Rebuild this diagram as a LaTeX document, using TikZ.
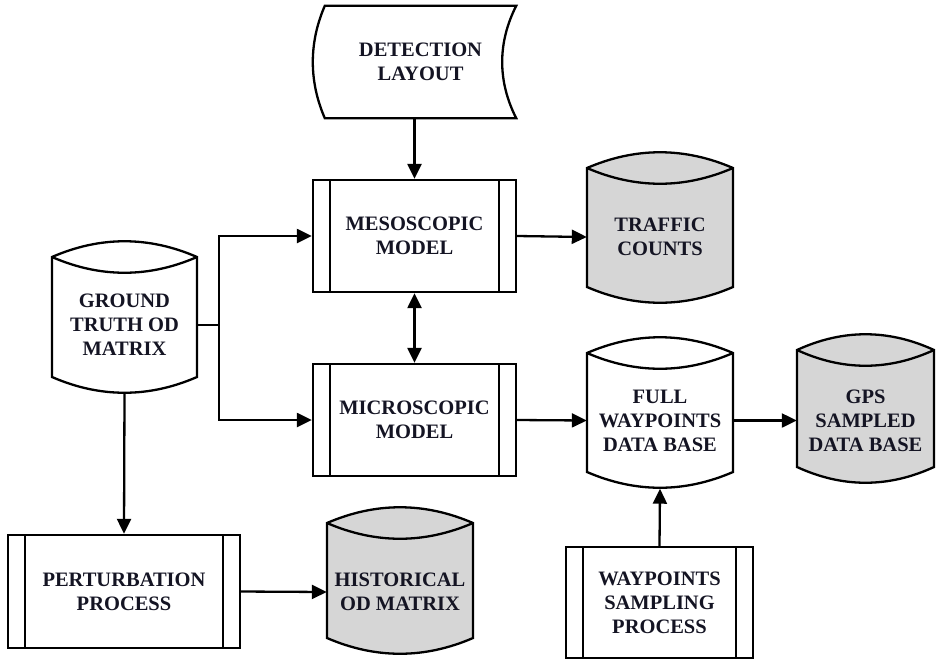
\documentclass[tikz,border=0pt]{standalone}
\usepackage{fontspec}
\setmainfont{Liberation Serif}
\usetikzlibrary{arrows.meta}
\definecolor{dbgray}{RGB}{214,214,214}
\definecolor{inkcol}{RGB}{20,20,35}

% drum (data store) outline: left, right, rim y, bottom y, fill colour
\newcommand\drum[5]{%
  \filldraw[fill=#5, dbline]
    (#1,#3) .. controls ({#1+(#2-#1)/3},{#3-21}) and ({#2-(#2-#1)/3},{#3-21}) .. (#2,#3)
    -- (#2,#4) .. controls ({#2-(#2-#1)/3},{#4+21}) and ({#1+(#2-#1)/3},{#4+21}) .. (#1,#4)
    -- cycle;
  \draw[dbline] (#1,#3) .. controls ({#1+(#2-#1)/3},{#3+21}) and ({#2-(#2-#1)/3},{#3+21}) .. (#2,#3);
}

\tikzset{
  dbline/.style={line width=2.3pt, line join=miter},
  label text/.style={font=\bfseries\fontsize{20.5}{24}\selectfont, text=inkcol, align=center, inner sep=0pt},
  procbox/.style={label text, draw, dbline,
    path picture={
      \draw[dbline] ([xshift=17pt]path picture bounding box.north west) -- ([xshift=17pt]path picture bounding box.south west);
      \draw[dbline] ([xshift=-17pt]path picture bounding box.north east) -- ([xshift=-17pt]path picture bounding box.south east);
    }},
  store/.style={label text, minimum width=146pt},
  flow/.style={dbline, -{Triangle[length=15pt,width=14pt]}},
  flow2/.style={dbline, {Triangle[length=15pt,width=14pt]}-{Triangle[length=15pt,width=14pt]}},
}

\begin{document}
\begin{tikzpicture}[x=1pt, y=-1pt]
\useasboundingbox (0,0) rectangle (936,665);

% data stores
\drum{52}{197}{257}{377}{white}
\drum{587}{733}{168}{287}{dbgray}
\drum{587}{733}{353}{472}{white}
\drum{797}{934}{350}{467}{dbgray}
\drum{327}{473}{523}{638}{dbgray}

\node[store, minimum width=145pt, minimum height=136pt] (gt) at (124.5,325) {GROUND\\TRUTH OD\\MATRIX};
\node[store, minimum height=136pt] (tc) at (660,237) {TRAFFIC\\COUNTS};
\node[store, minimum height=136pt] (full) at (660,420.5) {FULL\\WAYPOINTS\\DATA BASE};
\node[store, minimum width=137pt, minimum height=128pt] (gps) at (865.5,420.5) {GPS\\SAMPLED\\DATA BASE};
\node[store, minimum height=132pt] (hist) at (400,592) {HISTORICAL\\OD MATRIX};

% stored-data input
\node[label text, minimum width=191pt, minimum height=112pt] (det) at (420.5,62) {DETECTION\\LAYOUT};
\draw[dbline] (det.north west) .. controls +(-16,37) and +(-16,-37) .. (det.south west)
  -- (det.south east) .. controls +(-18.7,-37) and +(-18.7,37) .. (det.north east) -- cycle;

% predefined processes
\node[procbox, minimum width=203pt, minimum height=112pt] (meso) at (414.5,236) {MESOSCOPIC\\MODEL};
\node[procbox, minimum width=203pt, minimum height=112pt] (micro) at (414.5,420) {MICROSCOPIC\\MODEL};
\node[procbox, minimum width=232pt, minimum height=113pt] (pert) at (124,591.5) {PERTURBATION\\PROCESS};
\node[procbox, minimum width=187pt, minimum height=111pt] (wsamp) at (659.5,602.5) {WAYPOINTS\\SAMPLING\\PROCESS};

% connectors
\coordinate (split) at (219,325);
\draw[flow] (meso.north |- det.south) -- (meso.north);
\draw[dbline] (gt.east) -- (split);
\draw[flow] (split) |- (meso.west);
\draw[flow] (split) |- (micro.west);
\draw[flow2] (meso.south) -- (micro.north);
\draw[flow] (meso.east) -- (tc.west);
\draw[flow] (micro.east) -- (full.west);
\draw[flow] (full.east) -- (gps.west);
\draw[flow] (wsamp.north) -- (full.south);
\draw[flow] (gt.south) -- (pert.north);
\draw[flow] (pert.east) -- (hist.west);
\end{tikzpicture}
\end{document}
